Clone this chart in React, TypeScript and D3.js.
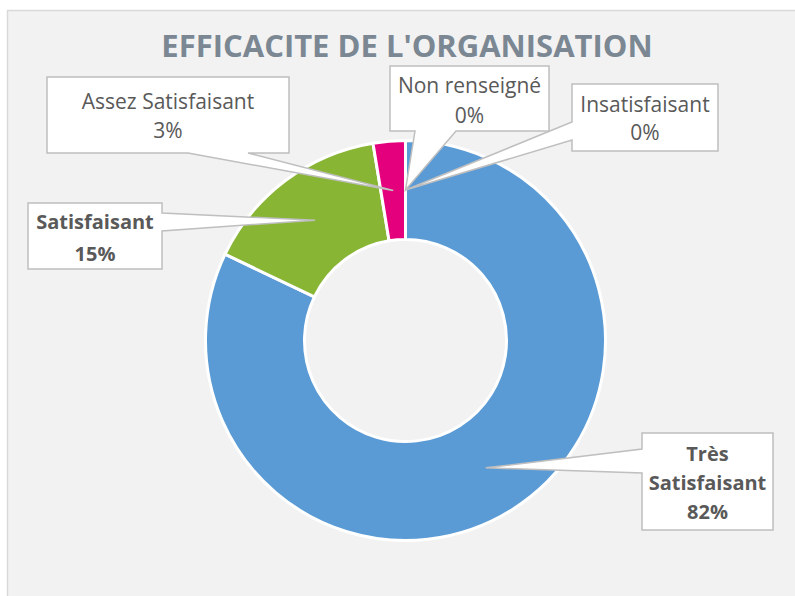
import React from "react";
import * as d3 from "d3";

const title = "EFFICACITE DE L'ORGANISATION";
const categories = ["Très Satisfaisant", "Satisfaisant", "Assez Satisfaisant", "Insatisfaisant", "Non renseigné"];
const values = [82.1, 15.3, 2.6, 0, 0];
const colors = ["#5b9bd5", "#89b535", "#e4007d", "#a5a5a5", "#5b9bd5"];
const labelLines = [["Très", "Satisfaisant"], ["Satisfaisant"], ["Assez Satisfaisant"], ["Insatisfaisant"], ["Non renseigné"]];
const labelBold = [true, true, false, false, false];

type Side = "left" | "right" | "bottom" | "top";
interface Callout { x: number; y: number; w: number; h: number; side: Side; base: [number, number]; first: number; lh: number; }
const callouts: Callout[] = [
  { x: 642, y: 433, w: 131, h: 97, side: "left", base: [449, 473], first: 461, lh: 29 },
  { x: 28, y: 203, w: 134, h: 66, side: "right", base: [213, 231], first: 229, lh: 32 },
  { x: 47, y: 77, w: 242, h: 76, side: "bottom", base: [188, 248], first: 109, lh: 29 },
  { x: 572, y: 84, w: 146, h: 67, side: "left", base: [122, 140], first: 112, lh: 28 },
  { x: 390, y: 66, w: 159, h: 65, side: "bottom", base: [415, 456], first: 93, lh: 30 },
];

const W = 795, H = 596;
const cx = 405.5, cy = 340.5, rOuter = 200, rInner = 101;

function calloutPath(c: Callout, tip: [number, number]) {
  const { x, y, w, h, side, base } = c;
  const p = d3.path();
  p.moveTo(x, y);
  if (side === "top") { p.lineTo(base[0], y); p.lineTo(tip[0], tip[1]); p.lineTo(base[1], y); }
  p.lineTo(x + w, y);
  if (side === "right") { p.lineTo(x + w, base[0]); p.lineTo(tip[0], tip[1]); p.lineTo(x + w, base[1]); }
  p.lineTo(x + w, y + h);
  if (side === "bottom") { p.lineTo(base[1], y + h); p.lineTo(tip[0], tip[1]); p.lineTo(base[0], y + h); }
  p.lineTo(x, y + h);
  if (side === "left") { p.lineTo(x, base[1]); p.lineTo(tip[0], tip[1]); p.lineTo(x, base[0]); }
  p.closePath();
  return p.toString();
}

export default function App() {
  const total = d3.sum(values);
  const pie = d3.pie<number>().sort(null).value((d) => d).startAngle(0).endAngle(2 * Math.PI);
  const arcs = pie(values);
  const arc = d3.arc<d3.PieArcDatum<number>>().innerRadius(rInner).outerRadius(rOuter);

  return (
    <svg width={W} height={H} style={{ position: "absolute", left: 0, top: 0 }} fontFamily="'Open Sans', sans-serif">
      <rect x={0} y={0} width={W} height={H} fill="#ffffff" />
      <rect x={7.5} y={10.5} width={W + 20} height={H + 20} fill="#f2f2f2" stroke="#d9d9d9" strokeWidth={1.5} />
      <text x={407} y={57} textAnchor="middle" fontSize={31} fontWeight="bold" fill="#7b8893">{title}</text>
      <g transform={`translate(${cx},${cy})`}>
        {arcs.map((a, i) => (
          <path key={categories[i]} d={arc(a) || ""} fill={colors[i]} stroke="#ffffff" strokeWidth={3} strokeLinejoin="round" />
        ))}
      </g>
      {arcs.map((a, i) => {
        const c = callouts[i];
        const [tx, ty] = arc.centroid(a);
        const tip: [number, number] = [cx + tx, cy + ty];
        const pct = Math.round((values[i] / total) * 100) + "%";
        const lines = [...labelLines[i], pct];
        const mid = c.x + c.w / 2;
        return (
          <g key={"lab" + i}>
            <path d={calloutPath(c, tip)} fill="#ffffff" stroke="#bfbfbf" strokeWidth={1.5} strokeLinejoin="miter" />
            {lines.map((t, j) => (
              <text key={j} x={mid} y={c.first + j * c.lh} textAnchor="middle" fontSize={labelBold[i] ? 20 : 21}
                fontWeight={labelBold[i] ? "bold" : "normal"} fill="#595959">{t}</text>
            ))}
          </g>
        );
      })}
    </svg>
  );
}
